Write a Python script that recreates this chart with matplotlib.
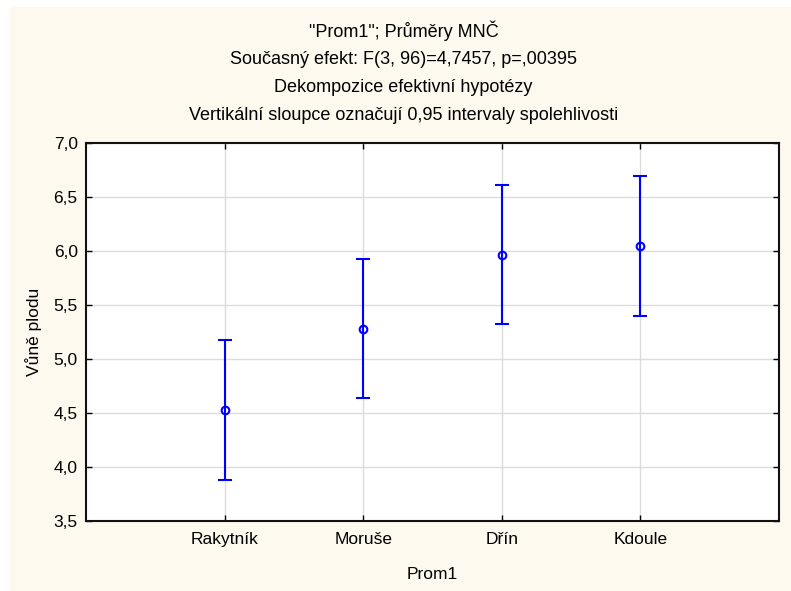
import numpy as np
import matplotlib.pyplot as plt
from matplotlib.patches import Rectangle

# data
kategorie = ['Rakytník', 'Moruše', 'Dřín', 'Kdoule']
prumery = [4.528, 5.281, 5.967, 6.046]
dolni = [3.882, 4.638, 5.321, 5.400]
horni = [5.172, 5.930, 6.610, 6.690]
yticks = [3.5, 4.0, 4.5, 5.0, 5.5, 6.0, 6.5, 7.0]
titulky = ['"Prom1"; Průměry MNČ',
           'Současný efekt: F(3, 96)=4,7457, p=,00395',
           'Dekompozice efektivní hypotézy',
           'Vertikální sloupce označují 0,95 intervaly spolehlivosti']

plt.rcParams['font.family'] = ['Liberation Sans', 'DejaVu Sans']
W, H = 791, 591
fig = plt.figure(figsize=(W / 100, H / 100), dpi=100, facecolor='white')

# cream background panel
fig.patches.append(Rectangle((10 / W, 0), 1, 1 - 7 / H, transform=fig.transFigure,
                             facecolor='#fef9ee', edgecolor='none', zorder=-10))

l, r, t, b = 86, 779, 143, 521
ax = fig.add_axes([l / W, 1 - b / H, (r - l) / W, (b - t) / H])
ax.set_facecolor('white')

x = np.arange(1, len(kategorie) + 1)
m = np.array(prumery)
err = [m - np.array(dolni), np.array(horni) - m]
ax.errorbar(x, m, yerr=err, fmt='o', color='#0000ff', ecolor='#0000ff',
            elinewidth=1.5, capsize=5, capthick=1.5,
            markersize=5.5, markerfacecolor='none', markeredgewidth=1.5, zorder=3)

fs = 12.5
ax.set_xlim(0, 5)
ax.set_ylim(3.5, 7.0)
ax.set_xticks(x)
ax.set_xticklabels(kategorie, fontsize=fs)
ax.set_yticks(yticks)
ax.set_yticklabels([f'{v:.1f}'.replace('.', ',') for v in yticks], fontsize=fs)
ax.grid(True, color='#dcdcdc', linewidth=1)
ax.set_axisbelow(True)
for s in ax.spines.values():
    s.set_linewidth(1.5)
    s.set_color('#111111')
ax.tick_params(axis='both', direction='in', length=4, width=1, top=True, right=True,
               labelsize=fs, pad=6)
ax.tick_params(axis='x', pad=8)

ax.set_xlabel('Prom1', fontsize=fs, labelpad=14)
ax.set_ylabel('Vůně plodu', fontsize=fs, labelpad=8)

for i, txt in enumerate(titulky):
    fig.text(0.5 + 8 / W, 1 - (31 + 28 * i) / H, txt, ha='center', va='center', fontsize=13)

fig.savefig('out.png', dpi=100, facecolor=fig.get_facecolor())
